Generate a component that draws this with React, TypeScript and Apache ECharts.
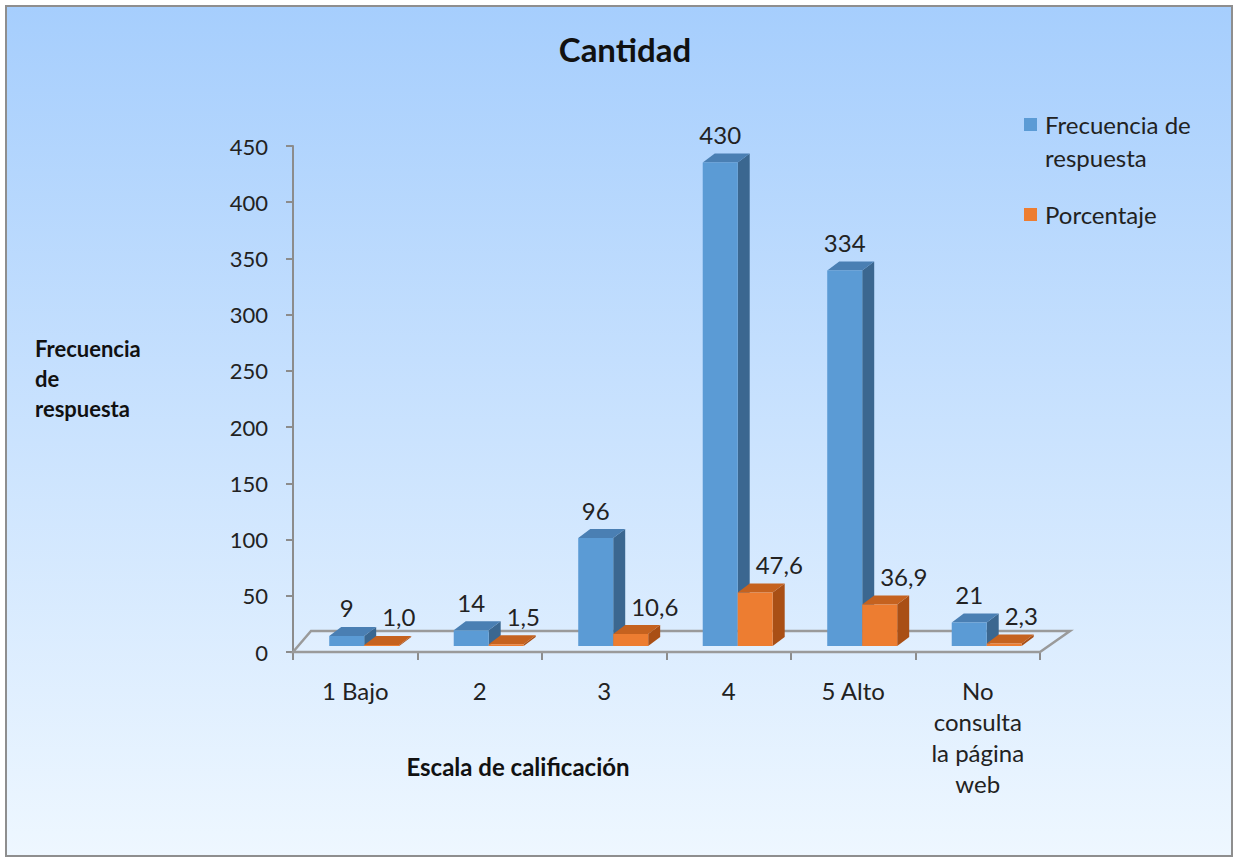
import React, { useEffect, useRef } from "react";
import * as echarts from "echarts";

const categories = ["1 Bajo", "2", "3", "4", "5 Alto", "No\nconsulta\nla página\nweb"];
const seriesNames = ["Frecuencia de respuesta", "Porcentaje"];
const frecuencia = [9, 14, 96, 430, 334, 21];
const porcentaje = [1.0, 1.5, 10.6, 47.6, 36.9, 2.3];
const yMin = 0;
const yMax = 450;
const yInterval = 50;

const FONT = "Lato, 'Open Sans', sans-serif";
const palettes = [
  { front: "#5B9BD5", top: "#4A7FB3", side: "#3B6790" },
  { front: "#ED7D31", top: "#C5621F", side: "#A94F15" },
];

function makeRender(s: number) {
  return (params: any, api: any) => {
    const i = api.value(0);
    const v = api.value(1);
    const base = api.coord([i, 0]);
    const top = api.coord([i, v]);
    const band = api.size([1, 0])[0];
    const w = band * 0.281;
    const x0 = base[0] - band * 0.209 + s * w;
    const yb = base[1] - 6;
    const yt = top[1] - 6;
    const dx = 12;
    const dy = -9;
    const p = palettes[s];
    const label = s === 0 ? String(v) : v.toFixed(1).replace(".", ",");
    return {
      type: "group",
      children: [
        {
          type: "polygon",
          shape: { points: [[x0 + w, yb], [x0 + w + dx, yb + dy], [x0 + w + dx, yt + dy], [x0 + w, yt]] },
          style: { fill: p.side },
        },
        {
          type: "polygon",
          shape: { points: [[x0, yt], [x0 + dx, yt + dy], [x0 + w + dx, yt + dy], [x0 + w, yt]] },
          style: { fill: p.top },
        },
        {
          type: "rect",
          shape: { x: x0, y: yt, width: w, height: yb - yt },
          style: { fill: p.front },
        },
        {
          type: "text",
          style: {
            text: label,
            x: s === 0 ? x0 + w / 2 : x0 + 18,
            y: yt + dy - 19,
            align: s === 0 ? "center" : "left",
            verticalAlign: "middle",
            fill: "#222",
            fontSize: 24,
            fontFamily: FONT,
          },
        },
      ],
    };
  };
}

export default function App() {
  const ref = useRef<HTMLDivElement>(null);
  useEffect(() => {
    if (!ref.current) return;
    const chart = echarts.init(ref.current, null, { renderer: "svg" });
    const option: any = {
      animation: false,
      title: {
        text: "Cantidad",
        left: 620,
        textAlign: "center",
        top: 27,
        textStyle: { fontSize: 33, fontWeight: "bold", color: "#111", fontFamily: FONT },
      },
      grid: { left: 293, right: 196, top: 146, bottom: 206 },
      xAxis: {
        type: "category",
        data: categories,
        axisLine: { show: true, lineStyle: { color: "#8c8c8c", width: 2 } },
        axisTick: { show: true, length: 8, lineStyle: { color: "#8c8c8c", width: 2 } },
        axisLabel: {
          fontSize: 24,
          lineHeight: 31,
          color: "#222",
          margin: 23,
          fontFamily: FONT,
          interval: 0,
        },
      },
      yAxis: {
        type: "value",
        min: yMin,
        max: yMax,
        interval: yInterval,
        axisLine: { show: true, lineStyle: { color: "#8c8c8c", width: 2 } },
        axisTick: { show: true, length: 7, lineStyle: { color: "#8c8c8c", width: 2 } },
        splitLine: { show: false },
        axisLabel: { fontSize: 22, color: "#222", margin: 25, fontFamily: FONT },
      },
      graphic: [
        {
          type: "text",
          left: 35,
          top: 333,
          style: {
            text: "Frecuencia\nde\nrespuesta",
            fontSize: 22,
            fontWeight: "bold",
            lineHeight: 30,
            fill: "#111",
            fontFamily: FONT,
          },
        },
        {
          type: "text",
          x: 518,
          y: 766,
          style: {
            text: "Escala de calificación",
            fontSize: 24,
            fontWeight: "bold",
            fill: "#111",
            align: "center",
            verticalAlign: "middle",
            fontFamily: FONT,
          },
        },
        { type: "rect", shape: { x: 1024, y: 118, width: 13, height: 13 }, style: { fill: palettes[0].front } },
        {
          type: "text",
          left: 1045,
          top: 108,
          style: { text: "Frecuencia de\nrespuesta", fontSize: 24, lineHeight: 33, fill: "#222", fontFamily: FONT },
        },
        { type: "rect", shape: { x: 1024, y: 208, width: 13, height: 13 }, style: { fill: palettes[1].front } },
        {
          type: "text",
          left: 1045,
          top: 198,
          style: { text: "Porcentaje", fontSize: 24, lineHeight: 33, fill: "#222", fontFamily: FONT },
        },
      ],
      series: [
        {
          type: "custom",
          name: "floor",
          z: 1,
          data: [[0, 0]],
          renderItem: (params: any, api: any) => {
            const cs = params.coordSys;
            const l = cs.x;
            const r = cs.x + cs.width;
            const b = cs.y + cs.height;
            return {
              type: "polygon",
              shape: { points: [[l, b], [l + 18, b - 21], [r + 30, b - 21], [r, b]] },
              style: { fill: "rgba(255,255,255,0.12)", stroke: "#9a9a9a", lineWidth: 2.5 },
            };
          },
        },
        {
          type: "custom",
          name: seriesNames[0],
          z: 2,
          data: frecuencia.map((v, i) => [i, v]),
          encode: { x: 0, y: 1 },
          renderItem: makeRender(0),
        },
        {
          type: "custom",
          name: seriesNames[1],
          z: 3,
          data: porcentaje.map((v, i) => [i, v]),
          encode: { x: 0, y: 1 },
          renderItem: makeRender(1),
        },
      ],
    };
    chart.setOption(option);
    return () => chart.dispose();
  }, []);
  return (
    <div style={{ position: "fixed", left: 0, top: 0, width: 1236, height: 858 }}>
      <div
        style={{
          position: "absolute",
          left: 5,
          top: 5,
          width: 1224,
          height: 848,
          border: "2px solid #8e8e8e",
          background: "linear-gradient(#a6cefd, #eef7ff)",
        }}
      />
      <div ref={ref} style={{ position: "absolute", left: 0, top: 0, width: 1236, height: 858 }} />
    </div>
  );
}
